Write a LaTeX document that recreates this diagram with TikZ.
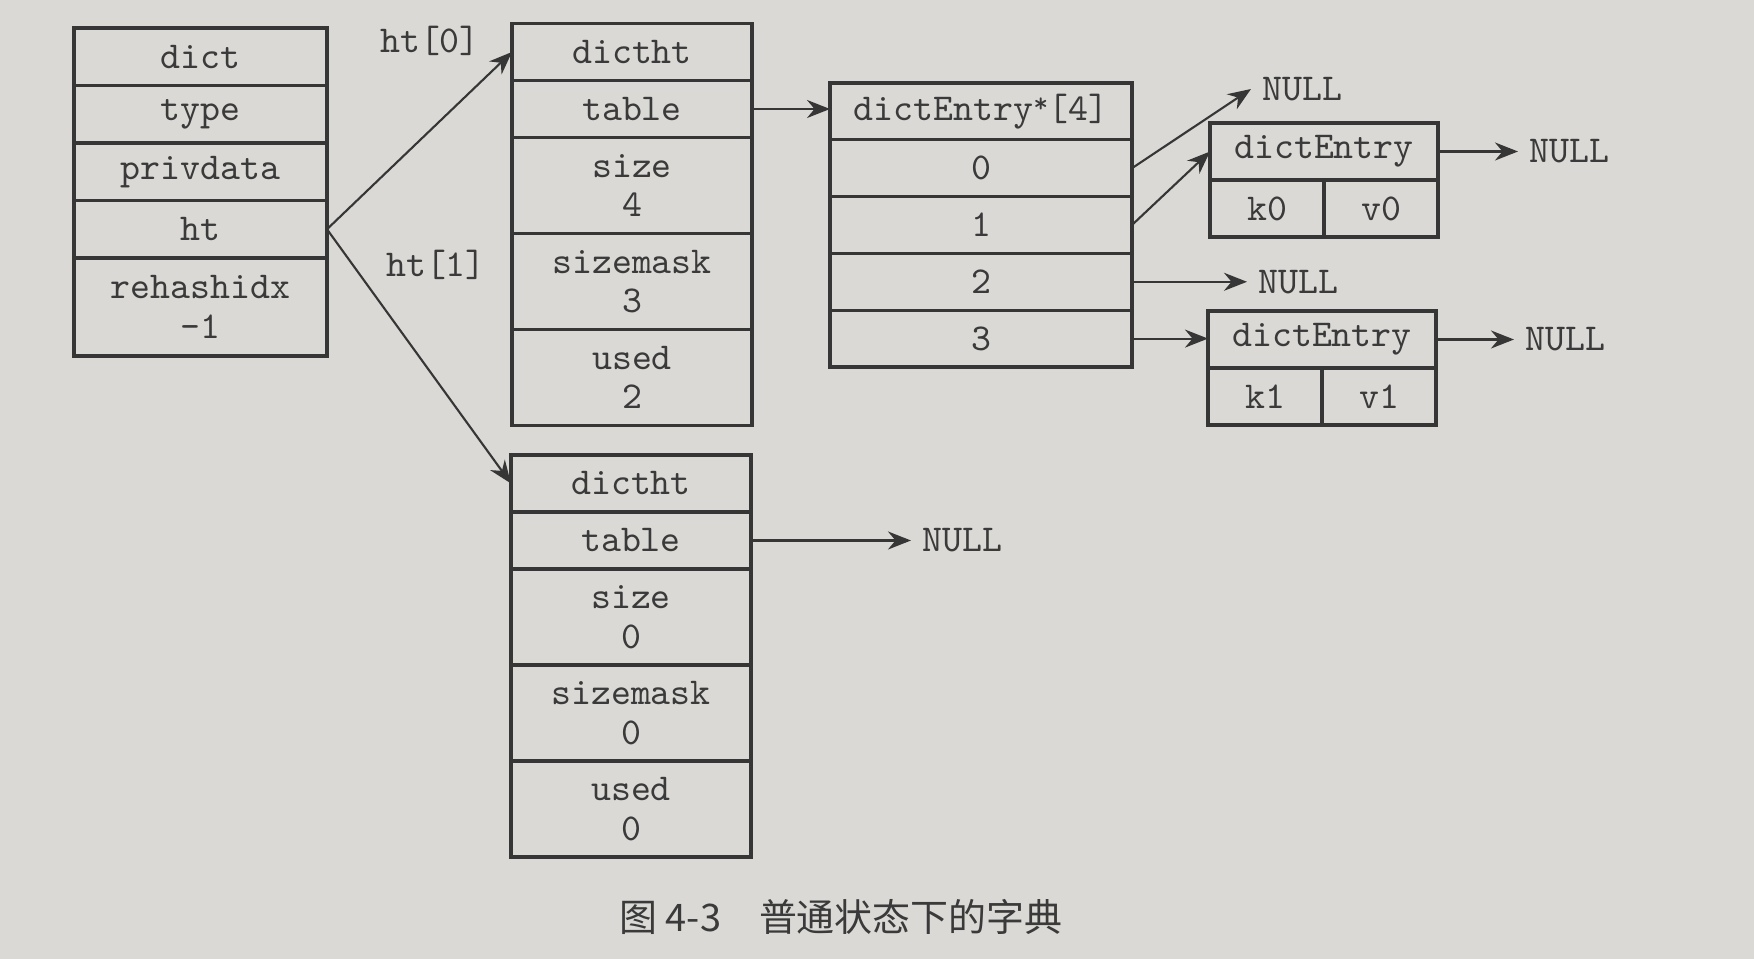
\documentclass[tikz,border=0pt]{standalone}
\usepackage{fontspec}
\newfontfamily\cjkfont{Noto Sans CJK SC}
\usepackage{tikz}
\usetikzlibrary{arrows.meta,positioning,calc}
\usepackage{xcolor}
\definecolor{paperbg}{HTML}{DAD9D6}
\definecolor{inkline}{HTML}{363636}
\definecolor{inktext}{HTML}{3A3A3A}

\begin{document}
\begin{tikzpicture}[
  font=\fontsize{10.8pt}{11.3pt}\selectfont\ttfamily,
  >={Stealth[length=2.3mm,width=1.8mm]},
  cell/.style={
    draw=inkline,
    line width=0.9pt,
    inner sep=0pt,
    outer sep=0pt,
    minimum height=0.57cm,
    align=center,
    text=inktext
  },
  tallcell/.style={minimum height=0.96cm},
  dictcell/.style={cell, minimum width=2.53cm, minimum height=0.575cm},
  htcell/.style={cell, minimum width=2.40cm},
  arrcell/.style={cell, minimum width=3.02cm, minimum height=0.568cm},
  entrycell/.style={cell, minimum width=2.28cm},
  halfcell/.style={cell, minimum width=1.14cm},
  nulltext/.style={inner sep=3pt, text=inktext},
  ptrarrow/.style={
    ->,
    line width=0.6pt,
    draw=inkline
  }
]

  % Paper background
  \useasboundingbox (0,0) rectangle (17.54,-9.59);
  \fill[paperbg] (0,0) rectangle (17.54,-9.59);

  % --- dict ---
  \node[dictcell, anchor=north west] (dname) at (0.74,-0.28) {dict};
  \node[dictcell, below=0pt of dname] (dtype) {type};
  \node[dictcell, below=0pt of dtype] (dpriv) {privdata};
  \node[dictcell, below=0pt of dpriv] (dht) {ht};
  \node[dictcell, minimum height=0.98cm, below=0pt of dht] (drehash) {rehashidx\\-1};

  % --- ht[0] ---
  \node[htcell, anchor=north west] (h0name) at (5.12,-0.235) {dictht};
  \node[htcell, below=0pt of h0name] (h0table) {table};
  \node[htcell, tallcell, below=0pt of h0table] (h0size) {size\\4};
  \node[htcell, tallcell, below=0pt of h0size] (h0mask) {sizemask\\3};
  \node[htcell, tallcell, below=0pt of h0mask] (h0used) {used\\2};

  % --- ht[1] ---
  \node[htcell, anchor=north west] (h1name) at (5.11,-4.55) {dictht};
  \node[htcell, below=0pt of h1name] (h1table) {table};
  \node[htcell, tallcell, below=0pt of h1table] (h1size) {size\\0};
  \node[htcell, tallcell, below=0pt of h1size] (h1mask) {sizemask\\0};
  \node[htcell, tallcell, below=0pt of h1mask] (h1used) {used\\0};

  % --- bucket array ---
  \node[arrcell, anchor=north west] (arrhead) at (8.30,-0.83) {dictEntry\raisebox{0.45ex}{\fontsize{8pt}{8pt}\selectfont*}[4]};
  \node[arrcell, below=0pt of arrhead] (arr0) {0};
  \node[arrcell, below=0pt of arr0] (arr1) {1};
  \node[arrcell, below=0pt of arr1] (arr2) {2};
  \node[arrcell, below=0pt of arr2] (arr3) {3};

  % --- entries ---
  \node[entrycell, anchor=north west] (e0) at (12.10,-1.23) {dictEntry};
  \node[halfcell, below=0pt of e0.south west, anchor=north west] (k0) {k0};
  \node[halfcell, right=0pt of k0] (v0) {v0};

  \node[entrycell, anchor=north west] (e1) at (12.08,-3.11) {dictEntry};
  \node[halfcell, below=0pt of e1.south west, anchor=north west] (k1) {k1};
  \node[halfcell, right=0pt of k1] (v1) {v1};

  % NULL ends
  \node[nulltext, anchor=west] (nullA) at (12.51,-0.89) {NULL};
  \node[nulltext, right=1.15cm of arr2] (nullB) {NULL};
  \node[nulltext, right=0.80cm of e0] (nullC) {NULL};
  \node[nulltext, right=0.78cm of e1] (nullD) {NULL};
  \node[nulltext, right=1.60cm of h1table] (nullE) {NULL};

  % Pointer labels
  \node[text=inktext] (lblzero) at (4.30,-0.41) {ht[0]};
  \node[text=inktext] (lblone) at (4.36,-2.65) {ht[1]};

  % Connecting Arrows
  \draw[ptrarrow] (dht.east) -- (h0name.west);
  \draw[ptrarrow] (dht.east) -- (h1name.west);
  \draw[ptrarrow] (h0table.east) -- (h0table.east -| arrhead.west);
  \draw[ptrarrow] (arr0.east) -- (nullA.west);
  \draw[ptrarrow] (arr1.east) -- (e0.west);
  \draw[ptrarrow] (arr2.east) -- (nullB.west);
  \draw[ptrarrow] (arr3.east) -- (arr3.east -| e1.west);
  \draw[ptrarrow] (e0.east) -- (nullC.west);
  \draw[ptrarrow] (e1.east) -- (nullD.west);
  \draw[ptrarrow] (h1table.east) -- (nullE.west);

  % Caption
  \node[font=\cjkfont\fontsize{10.8pt}{13pt}\selectfont, text=inktext] (caption) at (8.41,-9.17) {图 4-3\quad 普通状态下的字典};

\end{tikzpicture}
\end{document}
